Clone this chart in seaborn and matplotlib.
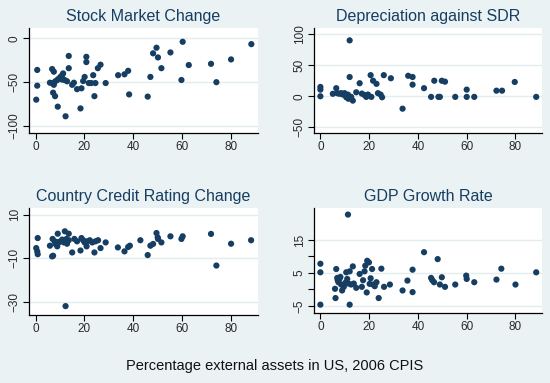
import pandas as pd
import matplotlib
matplotlib.use("Agg")
import matplotlib.pyplot as plt
import seaborn as sns

# Stock Market Change
stock_x = [0.7, 0.7, 0.3, 5.9, 6.8, 7.5, 7.2, 8.0, 8.1, 8.9, 9.1, 9.5, 10.2, 10.9,
           11.3, 11.9, 12.3, 12.9, 13.6, 13.6, 15.0, 15.7, 17.0, 18.8, 18.4, 19.5,
           20.1, 20.8, 20.8, 21.8, 22.8, 23.6, 24.1, 24.5, 25.5, 26.6, 28.7, 33.8,
           36.4, 37.9, 38.3, 45.9, 47.0, 48.1, 49.5, 50.1, 51.5, 55.2, 59.7, 60.2,
           62.7, 71.8, 74.0, 80.0, 88.3, 6.8, 7.5, 10.9]
stock_y = [-36, -54, -70, -50.6, -51, -53, -62, -66, -49, -47.5, -78, -46, -44, -42,
           -40, -47.5, -89, -49, -20, -34, -53, -50.6, -58, -57, -80, -48.7,
           -44, -21, -27, -51, -51, -42, -66, -51, -34, -30, -51, -42,
           -41, -37, -64, -66.5, -44, -17, -10.6, -21.7, -34, -16, -47.5, -3.8,
           -30.4, -29, -50, -24, -6.5, -35, -38, -47]

# Depreciation against SDR
dep_x = [0, 0, 0, 12.0, 12.0, 5.1, 6.5, 6.9, 7.8, 8.5, 9.2, 9.9, 10.6, 11.3, 11.5,
         12.6, 13.3, 14.7, 16.1, 17.0, 18.1, 18.8, 19.5, 20.6, 20.9, 21.6, 23.0,
         23.6, 24.7, 25.3, 26.0, 28.9, 33.7, 36.0, 37.8, 37.8, 42.5, 46.7, 45.4,
         48.4, 49.0, 49.8, 51.1, 55.3, 60.0, 60.0, 63.1, 72.2, 74.5, 79.7, 88.5]
dep_y = [15, 10.7, 0, 90, 31, 4, 13, 5, 4, 5, 2.7, 5, -1.6, 2.7, -4,
         -1, -7, 6.4, 21, 4.3, 2, -1, 2.7, 34, -1, 25, 20,
         5, 2.7, -1.6, 34, 29, -20, 33, 31, 18.7, 13, 25, -1,
         -1, -1, 25, 23.5, -1, 10.7, -1, -1, 9, 9, 23, -1]

# Country Credit Rating Change
credit_x = [0.3, 0.7, 0.9, 0.9, 5.9, 6.8, 7.2, 7.0, 7.8, 8.2, 8.6, 8.9, 9.1, 9.5,
            10.2, 10.9, 11.6, 12.0, 12.3, 12.7, 12.9, 13.6, 13.6, 15.0, 15.9, 17.0,
            18.4, 18.8, 19.5, 20.1, 20.9, 21.1, 22.2, 23.2, 24.1, 24.5, 25.6, 26.6,
            28.7, 33.7, 36.4, 37.9, 38.6, 42.9, 45.9, 47.0, 48.1, 49.5, 50.0, 50.1,
            51.5, 55.2, 59.7, 60.2, 71.8, 74.0, 80.0, 88.2, 12.3]
credit_y = [-5.4, -6.9, -8.2, -0.8, -4.3, -9.2, -8.9, -1.2, -2.3, -3.5, -2.6, -4.6, 1.2, -2.8,
            -2.3, -1.5, -2.8, 2.3, -2.3, -1.2, -3.4, 1.2, -1.8, -7.4, -1.2, -2.3,
            -6.5, -0.8, -1.8, -2.8, -4.6, -2.3, -1.8, -2.8, -7.4, -2.3, -1.8, -5.4,
            -2.8, -5.1, -6.9, -4.9, -4.3, -1.8, -8.6, -4.3, -3.5, 1.5, -0.5, -1.2,
            -2.8, 0.0, -1.2, 0.0, 1.1, -13.4, -3.4, -1.8, -32]

# GDP Growth Rate
gdp_x = [0, 0, 0, 11.3, 6.0, 6.2, 6.5, 6.9, 7.1, 7.4, 7.8, 8.2, 8.5, 8.9, 9.6,
         10.2, 10.6, 11.0, 11.5, 12.0, 12.0, 12.6, 13.3, 13.7, 14.7, 16.1, 17.0,
         17.5, 18.1, 18.4, 19.0, 19.2, 19.9, 20.2, 20.6, 21.2, 21.6, 22.3, 23.0,
         23.9, 25.0, 26.1, 28.5, 33.7, 35.7, 37.8, 37.8, 42.5, 45.4, 45.9, 46.6,
         48.1, 49.0, 49.8, 51.1, 55.3, 59.8, 60.0, 63.1, 72.2, 74.2, 80.0, 88.5]
gdp_y = [7.8, 5.2, -4.6, 22.7, 0.2, -2.6, 6.2, 3.5, 2.8, 2.2, 3.2, 3.8, 1.5, -0.3, 0.8,
         2.0, 5.2, 3.2, 1.8, 5.5, -4.6, 1.5, 7.0, 1.8, 0.5, 4.7, 0.8,
         2.8, 5.5, 7.2, -0.9, 8.7, 8.2, 1.7, 3.4, 6.2, 1.5, 1.0, 2.2,
         -2.6, 6.3, 0.8, 1.5, -0.3, 2.7, 6.0, -0.8, 11.3, 3.5, 2.8, 2.2,
         9.2, 1.5, 3.7, 0.8, 1.5, 4.2, 3.2, 2.2, 3.0, 6.3, 1.5, 5.2]

titles = ["Stock Market Change", "Depreciation against SDR",
          "Country Credit Rating Change", "GDP Growth Rate"]
xlabel = "Percentage external assets in US, 2006 CPIS"

bg = "#eaf2f3"
navy = "#163e62"

sns.set_theme(style="white")
plt.rcParams["font.family"] = ["Liberation Sans", "DejaVu Sans"]

fig = plt.figure(figsize=(5.5, 3.83), dpi=100, facecolor=bg)

rects = [[0.053, 0.653, 0.416, 0.274],
         [0.571, 0.653, 0.415, 0.274],
         [0.053, 0.178, 0.416, 0.279],
         [0.571, 0.183, 0.415, 0.274]]

panels = [
    (stock_x, stock_y, (-108, 12), [-100, -50, 0], []),
    (dep_x, dep_y, (-59, 110), [-50, 0, 50, 100], []),
    (credit_x, credit_y, (-36, 13), [-30, -10, 10], []),
    (gdp_x, gdp_y, (-7.1, 24.7), [-5, 5, 15], [0, 10]),
]

for i, (xs, ys, ylim, yticks, yminor) in enumerate(panels):
    ax = fig.add_axes(rects[i])
    ax.set_facecolor("white")
    df = pd.DataFrame({"x": xs, "y": ys})
    sns.scatterplot(data=df, x="x", y="y", ax=ax, color=navy, s=20,
                    marker="o", edgecolor="none", zorder=3)
    ax.set_xlim(-2.6, 91)
    ax.set_ylim(*ylim)
    ax.set_xticks([0, 20, 40, 60, 80])
    ax.set_yticks(yticks)
    if yminor:
        ax.set_yticks(yminor, minor=True)
        ax.tick_params(axis="y", which="minor", direction="out", length=4,
                       width=0.8, color="black", left=True)
    # light gridlines at the labelled y values
    for yv in yticks:
        ax.axhline(yv, color="#e3ecee", lw=1, zorder=1)
    for s in ["top", "right"]:
        ax.spines[s].set_visible(False)
    for s in ["left", "bottom"]:
        ax.spines[s].set_color("black")
        ax.spines[s].set_linewidth(0.9)
    ax.tick_params(axis="both", direction="out", length=4, width=0.8,
                   color="black", labelsize=8.5, labelcolor="#2a2a2a",
                   left=True, bottom=True, pad=2)
    for lab in ax.get_yticklabels():
        lab.set_rotation(90)
        lab.set_va("center")
    ax.set_xlabel("")
    ax.set_ylabel("")
    ax.set_title(titles[i], color=navy, fontsize=11.5, pad=5)

fig.text(0.5, 0.045, xlabel, ha="center", va="center", fontsize=10.5, color="#111111")

fig.savefig("out.png", dpi=100, facecolor=bg)
